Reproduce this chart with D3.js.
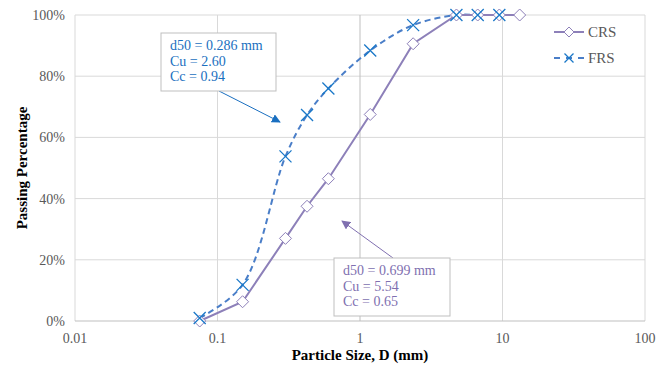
<!DOCTYPE html>
<html>
<head>
<meta charset="utf-8">
<script src="https://cdn.jsdelivr.net/npm/d3@7"></script>
<style>
  body { margin: 0; background: #fff; }
  text { font-family: "Liberation Serif", "Times New Roman", serif; }
</style>
</head>
<body>
<div class="chart"></div>
<script>
"use strict";

// sieve sizes (mm) and passing percentages
const crsSize = [0.075, 0.15, 0.3, 0.425, 0.6, 1.18, 2.36, 4.75, 6.7, 9.5, 13.2];
const crsPass = [0, 6.3, 27, 37.5, 46.5, 67.5, 90.6, 100, 100, 100, 100];
const frsSize = [0.075, 0.15, 0.3, 0.425, 0.6, 1.18, 2.36, 4.75, 6.7, 9.5];
const frsPass = [1, 11.8, 53.8, 67.3, 76, 88.4, 96.7, 100, 100, 100];

const xTicks = [0.01, 0.1, 1, 10, 100];
const yTicks = [0, 20, 40, 60, 80, 100];

const frsNote = ["d50 = 0.286 mm", "Cu = 2.60", "Cc = 0.94"];
const crsNote = ["d50 = 0.699 mm", "Cu = 5.54", "Cc = 0.65"];

const width = 668;
const height = 367;
const m = { left: 75, right: 23, top: 15, bottom: 46 };

const crsColor = "#8d80b9";
const frsLine = "#4a7ec8";
const frsMark = "#1a78c8";

const svg = d3
  .select(".chart")
  .append("svg")
  .attr("width", width)
  .attr("height", height);

const x = d3.scaleLog().domain([0.01, 100]).range([m.left, width - m.right]);
const y = d3.scaleLinear().domain([0, 100]).range([height - m.bottom, m.top]);

// gridlines
svg
  .selectAll(".hgrid")
  .data(yTicks.slice(1))
  .enter()
  .append("line")
  .attr("x1", x(0.01))
  .attr("x2", x(100))
  .attr("y1", (d) => y(d))
  .attr("y2", (d) => y(d))
  .style("stroke", "#d9d9d9");

svg
  .selectAll(".vgrid")
  .data(xTicks.filter((d) => d !== 1))
  .enter()
  .append("line")
  .attr("x1", (d) => x(d))
  .attr("x2", (d) => x(d))
  .attr("y1", y(0))
  .attr("y2", y(100))
  .style("stroke", "#d9d9d9");

// axis lines (vertical axis crosses at 1)
svg
  .append("line")
  .attr("x1", x(1))
  .attr("x2", x(1))
  .attr("y1", y(0))
  .attr("y2", y(100))
  .style("stroke", "#bfbfbf");
svg
  .append("line")
  .attr("x1", x(0.01))
  .attr("x2", x(100))
  .attr("y1", y(0))
  .attr("y2", y(0))
  .style("stroke", "#bfbfbf");

// tick labels
svg
  .selectAll(".ylab")
  .data(yTicks)
  .enter()
  .append("text")
  .attr("x", m.left - 10)
  .attr("y", (d) => y(d) + 5)
  .attr("text-anchor", "end")
  .style("font-size", "14px")
  .style("fill", "#595959")
  .text((d) => d + "%");

svg
  .selectAll(".xlab")
  .data(xTicks)
  .enter()
  .append("text")
  .attr("x", (d) => x(d))
  .attr("y", y(0) + 22)
  .attr("text-anchor", "middle")
  .style("font-size", "14px")
  .style("fill", "#595959")
  .text((d) => d);

// axis titles
svg
  .append("text")
  .attr("x", (m.left + width - m.right) / 2)
  .attr("y", 360)
  .attr("text-anchor", "middle")
  .style("font-size", "15px")
  .style("font-weight", "bold")
  .text("Particle Size, D (mm)");

svg
  .append("text")
  .attr("transform", `translate(27,${(y(0) + y(100)) / 2}) rotate(-90)`)
  .attr("text-anchor", "middle")
  .style("font-size", "15px")
  .style("font-weight", "bold")
  .text("Passing Percentage");

// series
const crs = crsSize.map((s, i) => ({ s: s, p: crsPass[i] }));
const frs = frsSize.map((s, i) => ({ s: s, p: frsPass[i] }));

const crsPath = d3
  .line()
  .x((d) => x(d.s))
  .y((d) => y(d.p));
const frsPath = d3
  .line()
  .x((d) => x(d.s))
  .y((d) => y(d.p))
  .curve(d3.curveCatmullRom.alpha(0.5));

svg
  .append("path")
  .attr("d", frsPath(frs))
  .style("fill", "none")
  .style("stroke", frsLine)
  .style("stroke-width", 2)
  .style("stroke-dasharray", "6,4");

svg
  .append("path")
  .attr("d", crsPath(crs))
  .style("fill", "none")
  .style("stroke", crsColor)
  .style("stroke-width", 2);

const diamond = (cx, cy, r) =>
  `M${cx},${cy - r}L${cx + r},${cy}L${cx},${cy + r}L${cx - r},${cy}Z`;
const cross = (cx, cy, r) =>
  `M${cx - r},${cy - r}L${cx + r},${cy + r}M${cx - r},${cy + r}L${cx + r},${cy - r}`;

svg
  .selectAll(".crsmark")
  .data(crs)
  .enter()
  .append("path")
  .attr("d", (d) => diamond(x(d.s), y(d.p), 6))
  .style("fill", "#fff")
  .style("stroke", crsColor)
  .style("stroke-width", 1);

svg
  .selectAll(".frsmark")
  .data(frs)
  .enter()
  .append("path")
  .attr("d", (d) => cross(x(d.s), y(d.p), 6))
  .style("fill", "none")
  .style("stroke", frsMark)
  .style("stroke-width", 1.3);

// legend
const lg = [
  { name: "CRS", y: 32 },
  { name: "FRS", y: 58 }
];
svg
  .append("line")
  .attr("x1", 554)
  .attr("x2", 584)
  .attr("y1", lg[0].y)
  .attr("y2", lg[0].y)
  .style("stroke", crsColor)
  .style("stroke-width", 2);
svg
  .append("path")
  .attr("d", diamond(569, lg[0].y, 5))
  .style("fill", "#fff")
  .style("stroke", crsColor);
svg
  .append("line")
  .attr("x1", 554)
  .attr("x2", 584)
  .attr("y1", lg[1].y)
  .attr("y2", lg[1].y)
  .style("stroke", frsLine)
  .style("stroke-width", 2)
  .style("stroke-dasharray", "6,6");
svg
  .append("path")
  .attr("d", cross(569, lg[1].y, 4.5))
  .style("stroke", frsMark)
  .style("stroke-width", 1.3);
svg
  .selectAll(".lgtext")
  .data(lg)
  .enter()
  .append("text")
  .attr("x", 588)
  .attr("y", (d) => d.y + 5)
  .style("font-size", "15px")
  .style("fill", "#595959")
  .text((d) => d.name);

// annotations
svg
  .append("defs")
  .selectAll("marker")
  .data([
    { id: "arrBlue", c: "#1a6fc0" },
    { id: "arrPurple", c: "#8070b0" }
  ])
  .enter()
  .append("marker")
  .attr("id", (d) => d.id)
  .attr("viewBox", "0 0 10 10")
  .attr("refX", 9)
  .attr("refY", 5)
  .attr("markerWidth", 9)
  .attr("markerHeight", 9)
  .attr("markerUnits", "userSpaceOnUse")
  .attr("orient", "auto")
  .append("path")
  .attr("d", "M0,0L10,5L0,10Z")
  .style("fill", (d) => d.c);

const note = (lines, bx, by, bw, bh, color, ax1, ay1, ax2, ay2, marker) => {
  svg
    .append("line")
    .attr("x1", ax1)
    .attr("y1", ay1)
    .attr("x2", ax2)
    .attr("y2", ay2)
    .style("stroke", color)
    .style("stroke-width", 1)
    .attr("marker-end", `url(#${marker})`);
  svg
    .append("rect")
    .attr("x", bx)
    .attr("y", by)
    .attr("width", bw)
    .attr("height", bh)
    .style("fill", "#fff")
    .style("stroke", "#bfbfbf");
  svg
    .selectAll(null)
    .data(lines)
    .enter()
    .append("text")
    .attr("x", bx + 9)
    .attr("y", (d, i) => by + 17 + i * 15.5)
    .style("font-size", "14px")
    .style("fill", color)
    .text((d) => d);
};

note(frsNote, 161, 33, 115, 58, "#1a6fc0", 219, 91, 280, 122, "arrBlue");
note(crsNote, 334, 258, 116, 58, "#8070b0", 393, 258, 342, 221, "arrPurple");
</script>
</body>
</html>
